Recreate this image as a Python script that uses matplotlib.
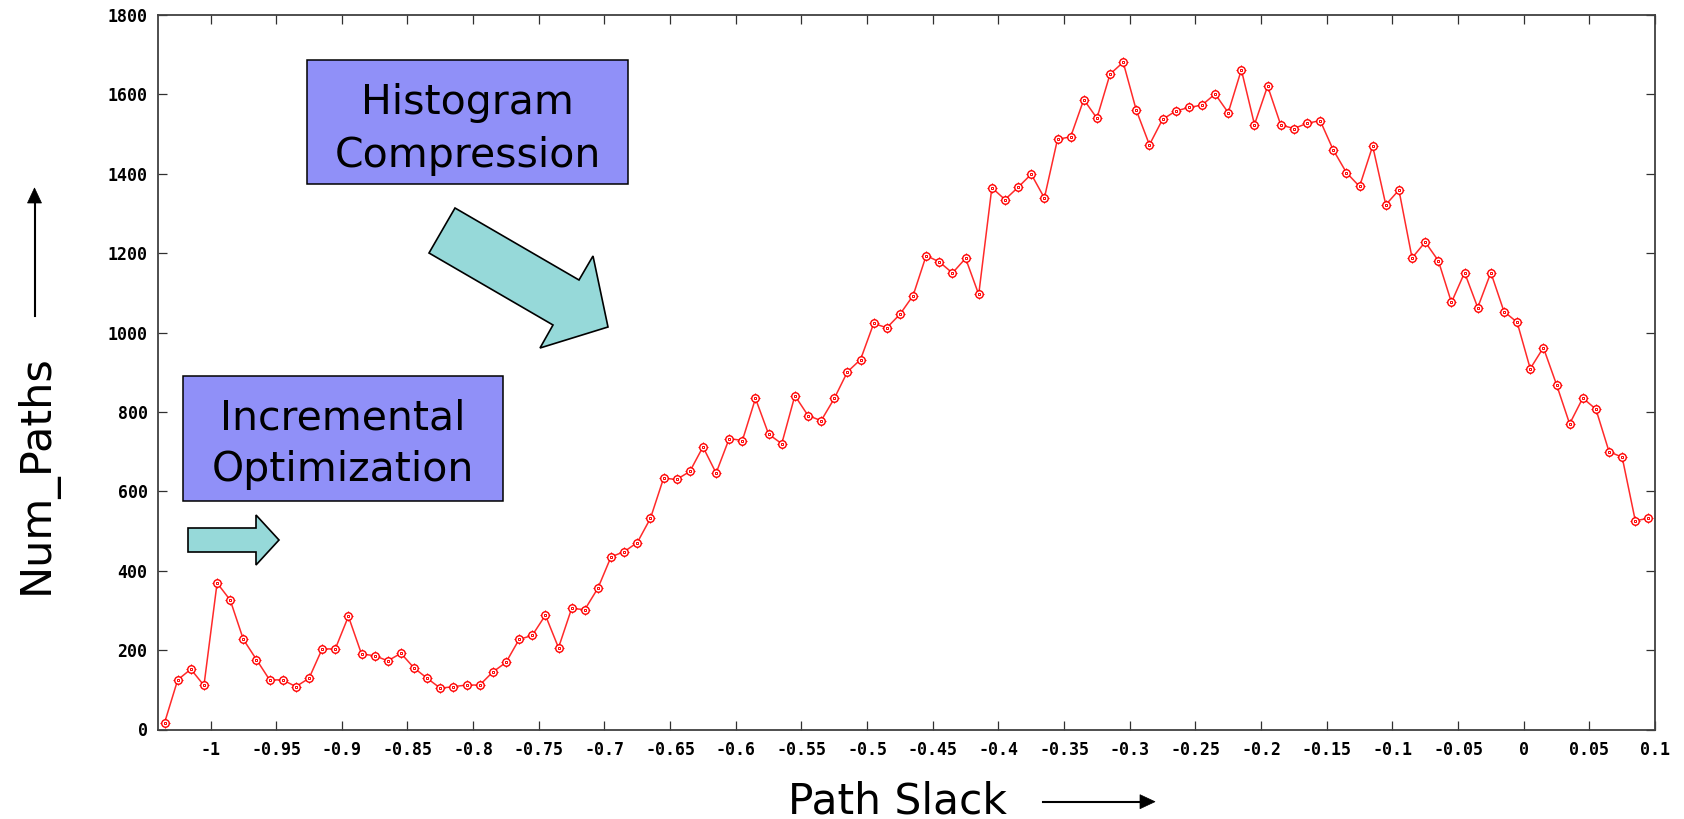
import numpy as np
import matplotlib
matplotlib.use("Agg")
import matplotlib.pyplot as plt
from matplotlib.patches import Polygon, Rectangle
from matplotlib.lines import Line2D

# Histogram of path slack: number of timing paths per 0.01 slack bin
bin_start = -1.035
bin_width = 0.01
num_paths = [
    17, 125, 152, 111, 369, 326, 227, 176, 125, 125,
    108, 129, 203, 203, 285, 190, 186, 173, 192, 155,
    129, 104, 108, 112, 112, 145, 169, 227, 237, 288,
    206, 305, 302, 356, 435, 448, 471, 532, 633, 630,
    650, 712, 646, 733, 728, 834, 744, 720, 841, 791,
    778, 834, 901, 932, 1023, 1012, 1046, 1093, 1194, 1178,
    1150, 1187, 1096, 1365, 1335, 1366, 1399, 1339, 1487, 1493,
    1587, 1540, 1651, 1681, 1560, 1473, 1537, 1558, 1567, 1573,
    1601, 1554, 1662, 1524, 1621, 1523, 1514, 1527, 1534, 1460,
    1403, 1368, 1470, 1322, 1359, 1188, 1228, 1181, 1076, 1151,
    1063, 1151, 1053, 1026, 909, 962, 869, 770, 835, 807,
    700, 686, 526, 532,
]
slack = bin_start + bin_width * np.arange(len(num_paths))

x_ticks = [-1, -0.95, -0.9, -0.85, -0.8, -0.75, -0.7, -0.65, -0.6, -0.55, -0.5,
           -0.45, -0.4, -0.35, -0.3, -0.25, -0.2, -0.15, -0.1, -0.05, 0, 0.05, 0.1]
x_tick_labels = ["-1", "-0.95", "-0.9", "-0.85", "-0.8", "-0.75", "-0.7", "-0.65",
                 "-0.6", "-0.55", "-0.5", "-0.45", "-0.4", "-0.35", "-0.3", "-0.25",
                 "-0.2", "-0.15", "-0.1", "-0.05", "0", "0.05", "0.1"]
y_ticks = [0, 200, 400, 600, 800, 1000, 1200, 1400, 1600, 1800]
y_tick_labels = ["0", "200", "400", "600", "800", "1000", "1200", "1400", "1600", "1800"]

W, H = 1684, 819
fig = plt.figure(figsize=(W / 100, H / 100), dpi=100)
fig.patch.set_facecolor("white")

ax = fig.add_axes([158 / W, 1 - 729.5 / H, (1655 - 158) / W, (729.5 - 15) / H])
ax.plot(slack, num_paths, color="#ff2a2a", lw=1.1, zorder=2)
# ringed point markers: short spokes, a circle and a small centre square
ax.plot(slack, num_paths, ls="none", marker="+", ms=7.2,
        mec="#ff0000", mew=0.8, zorder=3)
ax.plot(slack, num_paths, ls="none", marker="o", ms=5.4, mfc="white",
        mec="#ff0000", mew=1.0, zorder=4)
ax.plot(slack, num_paths, ls="none", marker="s", ms=1.9, mfc="none",
        mec="#ff0000", mew=0.7, zorder=5)

ax.set_xlim(-1.04, 0.1)
ax.set_ylim(0, 1800)
ax.set_xticks(x_ticks)
ax.set_xticklabels(x_tick_labels)
ax.set_yticks(y_ticks)
ax.set_yticklabels(y_tick_labels)
ax.tick_params(direction="in", length=6.5, width=0.9, color="#303030",
               top=True, right=True, labelcolor="black")
ax.tick_params(axis="x", pad=8.5)
ax.tick_params(axis="y", pad=7.5)
for lab in ax.get_xticklabels() + ax.get_yticklabels():
    lab.set_fontfamily("DejaVu Sans Mono")
    lab.set_fontweight("bold")
    lab.set_fontsize(12)
for sp in ax.spines.values():
    sp.set_color("#404040")
    sp.set_linewidth(1.3)

# Overlay in pixel coordinates for the callouts and axis captions
ov = fig.add_axes([0, 0, 1, 1], zorder=5)
ov.set_xlim(0, W)
ov.set_ylim(H, 0)
ov.axis("off")
ov.patch.set_alpha(0)

box_fc = "#9090f8"
arrow_fc = "#96d9d9"

ov.add_patch(Rectangle((307, 60), 321, 124, fc=box_fc, ec="black", lw=1.1))
ov.text(467.5, 114, "Histogram", ha="center", va="baseline",
        fontsize=29.5, family="DejaVu Sans")
ov.text(467.5, 166.7, "Compression", ha="center", va="baseline",
        fontsize=29.5, family="DejaVu Sans")

ov.add_patch(Rectangle((182.5, 376), 320.5, 124.5, fc=box_fc, ec="black", lw=1.1))
ov.text(342.7, 429, "Incremental", ha="center", va="baseline",
        fontsize=29.5, family="DejaVu Sans")
ov.text(342.7, 481, "Optimization", ha="center", va="baseline",
        fontsize=29.5, family="DejaVu Sans")

big_arrow = [(455, 208), (579, 280), (593, 256), (608, 327),
             (540, 348), (553, 325), (429, 253)]
ov.add_patch(Polygon(big_arrow, closed=True, fc=arrow_fc, ec="black", lw=1.2))

small_arrow = [(188, 528), (256, 528), (256, 515), (279, 540),
               (256, 565), (256, 552), (188, 552)]
ov.add_patch(Polygon(small_arrow, closed=True, fc=arrow_fc, ec="black", lw=1.2))

# Axis captions with direction arrows
ov.text(897, 813, "Path Slack", ha="center", va="baseline",
        fontsize=30.5, family="DejaVu Sans")
ov.add_line(Line2D([1043, 1143], [801.7, 801.7], color="black", lw=1.5))
ov.add_patch(Polygon([(1140, 794.7), (1140, 808.7), (1155, 801.7)],
                     closed=True, fc="black", ec="black", lw=0.5))

ov.text(48, 474, "Num_Paths", rotation=90, rotation_mode="anchor",
        ha="center", va="baseline", fontsize=31, family="DejaVu Sans")
ov.add_line(Line2D([34.5, 34.5], [316, 200], color="black", lw=1.5))
ov.add_patch(Polygon([(27.5, 203), (41.5, 203), (34.5, 188)],
                     closed=True, fc="black", ec="black", lw=0.5))

fig.savefig("out.png", dpi=100)
